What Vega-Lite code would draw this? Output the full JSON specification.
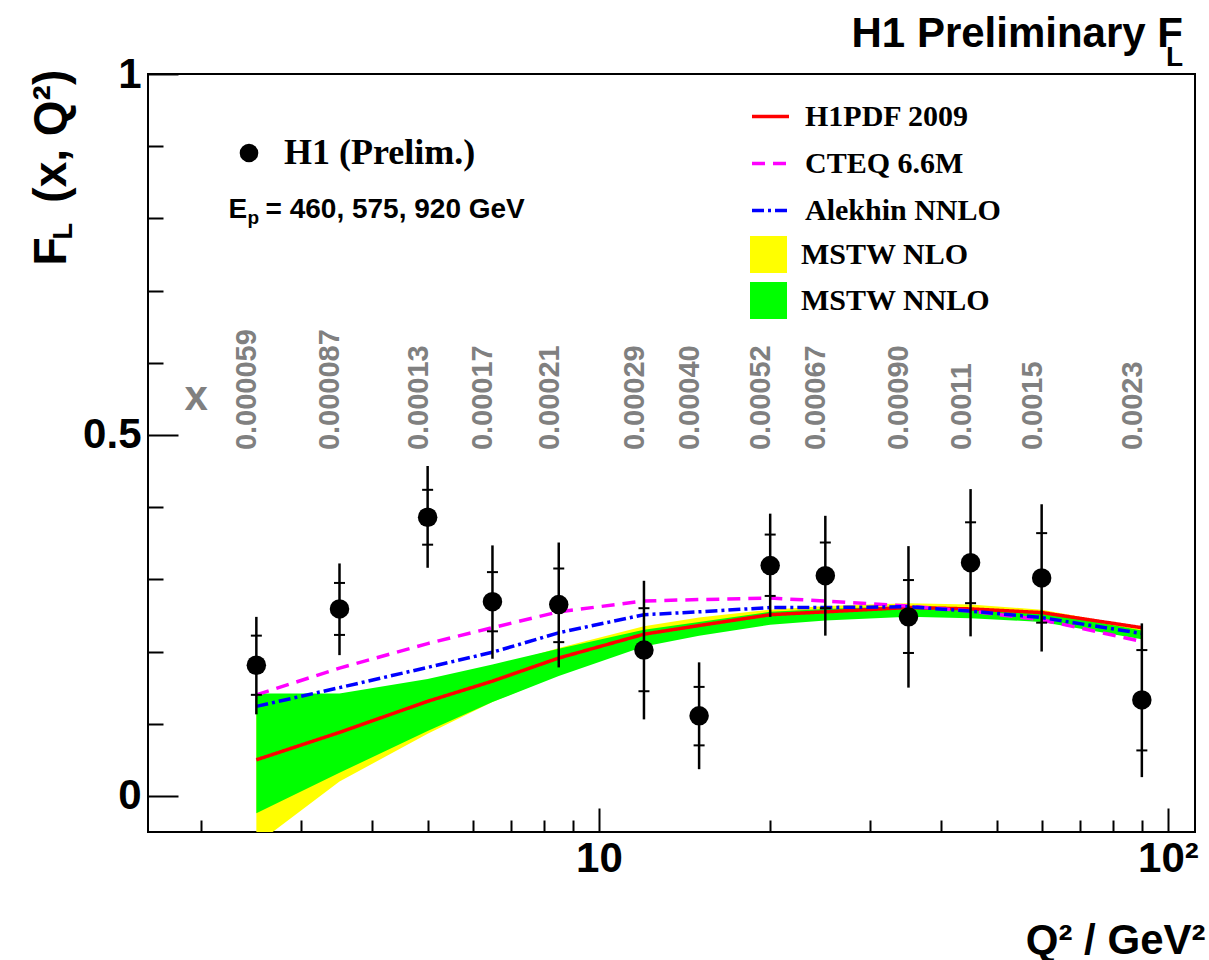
{
  "$schema": "https://vega.github.io/schema/vega-lite/v6.json",
  "description": "H1 preliminary F_L versus Q2 with PDF predictions",
  "width": 1047,
  "height": 758,
  "autosize": {"type": "none"},
  "padding": {"left": 148, "top": 74, "right": 14, "bottom": 128},
  "background": "white",
  "config": {
    "view": {"stroke": "black", "strokeWidth": 2},
    "font": "Liberation Sans",
    "axis": {
      "labelFont": "Liberation Sans",
      "titleFont": "Liberation Sans",
      "labelFontWeight": "bold",
      "titleFontWeight": "bold",
      "labelColor": "black",
      "titleColor": "black",
      "tickColor": "black",
      "tickWidth": 2,
      "domain": false,
      "grid": false,
      "labelOverlap": false,
      "labelFlush": false
    },
    "legend": {"padding": 0, "offset": 0, "titlePadding": 0, "labelLimit": 500}
  },
  "title": {
    "text": "H1 Preliminary F\u00a0\u00a0\u2009",
    "subtitle": "L",
    "anchor": "end",
    "frame": "group",
    "font": "Liberation Sans",
    "fontSize": 42,
    "fontWeight": "bold",
    "color": "black",
    "subtitleFont": "Liberation Sans",
    "subtitleFontSize": 28,
    "subtitleFontWeight": "bold",
    "subtitleColor": "black",
    "subtitlePadding": -12,
    "offset": 14,
    "dx": -12,
    "dy": 34
  },
  "datasets": {
    "pts": [
      {"Q2": 2.5, "FL": 0.181, "statLo": 0.140, "statHi": 0.222, "totLo": 0.113, "totHi": 0.248, "xval": "0.000059", "series": "H1 (Prelim.)"},
      {"Q2": 3.5, "FL": 0.259, "statLo": 0.223, "statHi": 0.295, "totLo": 0.195, "totHi": 0.322, "xval": "0.000087", "series": "H1 (Prelim.)"},
      {"Q2": 5, "FL": 0.386, "statLo": 0.348, "statHi": 0.424, "totLo": 0.316, "totHi": 0.457, "xval": "0.00013", "series": "H1 (Prelim.)"},
      {"Q2": 6.5, "FL": 0.269, "statLo": 0.228, "statHi": 0.310, "totLo": 0.190, "totHi": 0.347, "xval": "0.00017", "series": "H1 (Prelim.)"},
      {"Q2": 8.5, "FL": 0.265, "statLo": 0.213, "statHi": 0.315, "totLo": 0.178, "totHi": 0.351, "xval": "0.00021", "series": "H1 (Prelim.)"},
      {"Q2": 12, "FL": 0.202, "statLo": 0.145, "statHi": 0.260, "totLo": 0.106, "totHi": 0.298, "xval": "0.00029", "series": "H1 (Prelim.)"},
      {"Q2": 15, "FL": 0.111, "statLo": 0.070, "statHi": 0.151, "totLo": 0.037, "totHi": 0.185, "xval": "0.00040", "series": "H1 (Prelim.)"},
      {"Q2": 20, "FL": 0.319, "statLo": 0.277, "statHi": 0.362, "totLo": 0.248, "totHi": 0.391, "xval": "0.00052", "series": "H1 (Prelim.)"},
      {"Q2": 25, "FL": 0.305, "statLo": 0.260, "statHi": 0.351, "totLo": 0.222, "totHi": 0.388, "xval": "0.00067", "series": "H1 (Prelim.)"},
      {"Q2": 35, "FL": 0.248, "statLo": 0.198, "statHi": 0.299, "totLo": 0.150, "totHi": 0.346, "xval": "0.00090", "series": "H1 (Prelim.)"},
      {"Q2": 45, "FL": 0.323, "statLo": 0.267, "statHi": 0.379, "totLo": 0.221, "totHi": 0.425, "xval": "0.0011", "series": "H1 (Prelim.)"},
      {"Q2": 60, "FL": 0.302, "statLo": 0.240, "statHi": 0.364, "totLo": 0.200, "totHi": 0.404, "xval": "0.0015", "series": "H1 (Prelim.)"},
      {"Q2": 90, "FL": 0.133, "statLo": 0.063, "statHi": 0.202, "totLo": 0.026, "totHi": 0.239, "xval": "0.0023", "series": "H1 (Prelim.)"}
    ],
    "models": [
      {"Q2": 2.5, "model": "H1PDF 2009", "FL": 0.050},
      {"Q2": 3.5, "model": "H1PDF 2009", "FL": 0.088},
      {"Q2": 5, "model": "H1PDF 2009", "FL": 0.131},
      {"Q2": 6.5, "model": "H1PDF 2009", "FL": 0.159},
      {"Q2": 8.5, "model": "H1PDF 2009", "FL": 0.191},
      {"Q2": 12, "model": "H1PDF 2009", "FL": 0.224},
      {"Q2": 15, "model": "H1PDF 2009", "FL": 0.236},
      {"Q2": 20, "model": "H1PDF 2009", "FL": 0.251},
      {"Q2": 25, "model": "H1PDF 2009", "FL": 0.255},
      {"Q2": 35, "model": "H1PDF 2009", "FL": 0.261},
      {"Q2": 45, "model": "H1PDF 2009", "FL": 0.259},
      {"Q2": 60, "model": "H1PDF 2009", "FL": 0.254},
      {"Q2": 90, "model": "H1PDF 2009", "FL": 0.233},
      {"Q2": 2.5, "model": "CTEQ 6.6M", "FL": 0.140},
      {"Q2": 3.5, "model": "CTEQ 6.6M", "FL": 0.177},
      {"Q2": 5, "model": "CTEQ 6.6M", "FL": 0.211},
      {"Q2": 6.5, "model": "CTEQ 6.6M", "FL": 0.233},
      {"Q2": 8.5, "model": "CTEQ 6.6M", "FL": 0.255},
      {"Q2": 12, "model": "CTEQ 6.6M", "FL": 0.270},
      {"Q2": 15, "model": "CTEQ 6.6M", "FL": 0.272},
      {"Q2": 20, "model": "CTEQ 6.6M", "FL": 0.274},
      {"Q2": 25, "model": "CTEQ 6.6M", "FL": 0.270},
      {"Q2": 35, "model": "CTEQ 6.6M", "FL": 0.263},
      {"Q2": 45, "model": "CTEQ 6.6M", "FL": 0.256},
      {"Q2": 60, "model": "CTEQ 6.6M", "FL": 0.244},
      {"Q2": 90, "model": "CTEQ 6.6M", "FL": 0.214},
      {"Q2": 2.5, "model": "Alekhin NNLO", "FL": 0.124},
      {"Q2": 3.5, "model": "Alekhin NNLO", "FL": 0.150},
      {"Q2": 5, "model": "Alekhin NNLO", "FL": 0.178},
      {"Q2": 6.5, "model": "Alekhin NNLO", "FL": 0.199},
      {"Q2": 8.5, "model": "Alekhin NNLO", "FL": 0.226},
      {"Q2": 12, "model": "Alekhin NNLO", "FL": 0.251},
      {"Q2": 15, "model": "Alekhin NNLO", "FL": 0.255},
      {"Q2": 20, "model": "Alekhin NNLO", "FL": 0.261},
      {"Q2": 25, "model": "Alekhin NNLO", "FL": 0.261},
      {"Q2": 35, "model": "Alekhin NNLO", "FL": 0.262},
      {"Q2": 45, "model": "Alekhin NNLO", "FL": 0.256},
      {"Q2": 60, "model": "Alekhin NNLO", "FL": 0.247},
      {"Q2": 90, "model": "Alekhin NNLO", "FL": 0.225}
    ],
    "bands": [
      {"Q2": 2.5, "band": "MSTW NLO", "lo": -0.067, "hi": 0.130},
      {"Q2": 3.5, "band": "MSTW NLO", "lo": 0.020, "hi": 0.135},
      {"Q2": 5, "band": "MSTW NLO", "lo": 0.086, "hi": 0.155},
      {"Q2": 6.5, "band": "MSTW NLO", "lo": 0.130, "hi": 0.178},
      {"Q2": 8.5, "band": "MSTW NLO", "lo": 0.168, "hi": 0.205},
      {"Q2": 12, "band": "MSTW NLO", "lo": 0.212, "hi": 0.235},
      {"Q2": 15, "band": "MSTW NLO", "lo": 0.228, "hi": 0.247},
      {"Q2": 20, "band": "MSTW NLO", "lo": 0.242, "hi": 0.258},
      {"Q2": 25, "band": "MSTW NLO", "lo": 0.248, "hi": 0.263},
      {"Q2": 35, "band": "MSTW NLO", "lo": 0.252, "hi": 0.267},
      {"Q2": 45, "band": "MSTW NLO", "lo": 0.250, "hi": 0.265},
      {"Q2": 60, "band": "MSTW NLO", "lo": 0.245, "hi": 0.258},
      {"Q2": 90, "band": "MSTW NLO", "lo": 0.222, "hi": 0.233},
      {"Q2": 2.5, "band": "MSTW NNLO", "lo": -0.024, "hi": 0.142},
      {"Q2": 3.5, "band": "MSTW NNLO", "lo": 0.032, "hi": 0.142},
      {"Q2": 5, "band": "MSTW NNLO", "lo": 0.090, "hi": 0.162},
      {"Q2": 6.5, "band": "MSTW NNLO", "lo": 0.130, "hi": 0.182},
      {"Q2": 8.5, "band": "MSTW NNLO", "lo": 0.166, "hi": 0.204},
      {"Q2": 12, "band": "MSTW NNLO", "lo": 0.207, "hi": 0.230},
      {"Q2": 15, "band": "MSTW NNLO", "lo": 0.222, "hi": 0.241},
      {"Q2": 20, "band": "MSTW NNLO", "lo": 0.237, "hi": 0.255},
      {"Q2": 25, "band": "MSTW NNLO", "lo": 0.243, "hi": 0.259},
      {"Q2": 35, "band": "MSTW NNLO", "lo": 0.248, "hi": 0.263},
      {"Q2": 45, "band": "MSTW NNLO", "lo": 0.246, "hi": 0.260},
      {"Q2": 60, "band": "MSTW NNLO", "lo": 0.241, "hi": 0.255},
      {"Q2": 90, "band": "MSTW NNLO", "lo": 0.217, "hi": 0.229}
    ]
  },
  "layer": [
    {
      "data": {"name": "bands"},
      "transform": [{"filter": "datum.band === 'MSTW NLO'"}],
      "mark": {"type": "area", "clip": true, "opacity": 1},
      "encoding": {
        "x": {
          "field": "Q2", "type": "quantitative",
          "scale": {"type": "log", "domain": [1.6125, 111.6], "nice": false},
          "axis": {
            "orient": "bottom", "values": [10, 100], "tickSize": -24,
            "labelExpr": "datum.value == 100 ? '10²' : '10'",
            "labelFontSize": 42, "labelPadding": 30,
            "title": "Q² / GeV²", "titleFontSize": 42,
            "titleAlign": "right", "titleBaseline": "alphabetic",
            "titleX": 1057, "titleY": 121
          }
        },
        "y": {
          "field": "lo", "type": "quantitative",
          "scale": {"domain": [-0.05, 1.0], "nice": false, "zero": false},
          "axis": {
            "orient": "left", "values": [0, 0.5, 1], "tickSize": -30,
            "labelFontSize": 42, "labelPadding": 37,
            "labelExpr": "datum.value == 0 ? '0' : datum.value == 1 ? '1' : '0.5'",
            "title": "F\u00a0\u00a0\u2009(x, Q²)", "titleFontSize": 46,
            "titleAngle": 270, "titleAlign": "left", "titleBaseline": "alphabetic",
            "titleX": -83, "titleY": 191
          }
        },
        "y2": {"field": "hi"},
        "fill": {
          "field": "band", "type": "nominal",
          "scale": {"domain": ["MSTW NLO", "MSTW NNLO"], "range": ["#ffff00", "#00ff00"]},
          "legend": {
            "orient": "none", "legendX": 602, "legendY": 162, "title": null,
            "symbolType": "square", "symbolSize": 1369, "symbolStrokeWidth": 0,
            "labelFont": "Liberation Serif", "labelFontSize": 30, "labelFontWeight": "bold",
            "labelColor": "black", "labelOffset": 14, "rowPadding": 9
          }
        }
      }
    },
    {
      "data": {"name": "bands"},
      "transform": [{"filter": "datum.band === 'MSTW NNLO'"}],
      "mark": {"type": "area", "clip": true, "opacity": 1},
      "encoding": {
        "x": {
          "field": "Q2", "type": "quantitative",
          "axis": {
            "orient": "bottom", "values": [2, 3, 4, 5, 6, 7, 8, 9, 20, 30, 40, 50, 60, 70, 80, 90],
            "tickSize": -12, "labels": false, "title": null
          }
        },
        "y": {
          "field": "lo", "type": "quantitative",
          "axis": {
            "orient": "left", "values": [0.1, 0.2, 0.3, 0.4, 0.6, 0.7, 0.8, 0.9],
            "tickSize": -15, "labels": false,
            "title": "L", "titleFontSize": 27,
            "titleAngle": 270, "titleAlign": "left", "titleBaseline": "alphabetic",
            "titleX": -77, "titleY": 165
          }
        },
        "y2": {"field": "hi"},
        "fill": {"field": "band", "type": "nominal"}
      }
    },
    {
      "data": {"name": "models"},
      "mark": {"type": "line", "strokeWidth": 3.5, "strokeCap": "butt"},
      "encoding": {
        "x": {"field": "Q2", "type": "quantitative", "axis": null},
        "y": {"field": "FL", "type": "quantitative", "axis": null},
        "stroke": {
          "field": "model", "type": "nominal",
          "scale": {"domain": ["H1PDF 2009", "CTEQ 6.6M", "Alekhin NNLO"], "range": ["#ff0000", "#ff00ff", "#0000ff"]},
          "legend": {
            "orient": "none", "legendX": 602, "legendY": 22, "title": null,
            "symbolType": "stroke", "symbolSize": 1369, "symbolStrokeWidth": 3.5,
            "labelFont": "Liberation Serif", "labelFontSize": 30, "labelFontWeight": "bold",
            "labelColor": "black", "labelOffset": 14, "rowPadding": 11
          }
        },
        "strokeDash": {
          "field": "model", "type": "nominal",
          "scale": {"domain": ["H1PDF 2009", "CTEQ 6.6M", "Alekhin NNLO"], "range": [[1, 0], [13, 8], [12, 4, 3, 4]]},
          "legend": {
            "orient": "none", "legendX": 602, "legendY": 22, "title": null,
            "symbolType": "stroke", "symbolSize": 1369, "symbolStrokeWidth": 3.5,
            "labelFont": "Liberation Serif", "labelFontSize": 30, "labelFontWeight": "bold",
            "labelColor": "black", "labelOffset": 14, "rowPadding": 11
          }
        }
      }
    },
    {
      "data": {"name": "pts"},
      "mark": {"type": "rule", "strokeWidth": 2.5, "color": "black"},
      "encoding": {
        "x": {"field": "Q2", "type": "quantitative", "axis": null},
        "y": {"field": "totLo", "type": "quantitative", "axis": null},
        "y2": {"field": "totHi"}
      }
    },
    {
      "data": {"name": "pts"},
      "mark": {"type": "tick", "orient": "horizontal", "size": 11, "thickness": 2, "color": "black", "opacity": 1},
      "encoding": {
        "x": {"field": "Q2", "type": "quantitative", "axis": null},
        "y": {"field": "statLo", "type": "quantitative", "axis": null}
      }
    },
    {
      "data": {"name": "pts"},
      "mark": {"type": "tick", "orient": "horizontal", "size": 11, "thickness": 2, "color": "black", "opacity": 1},
      "encoding": {
        "x": {"field": "Q2", "type": "quantitative", "axis": null},
        "y": {"field": "statHi", "type": "quantitative", "axis": null}
      }
    },
    {
      "data": {"name": "pts"},
      "mark": {"type": "point", "filled": true, "size": 380, "opacity": 1, "color": "black"},
      "encoding": {
        "x": {"field": "Q2", "type": "quantitative", "axis": null},
        "y": {"field": "FL", "type": "quantitative", "axis": null},
        "shape": {
          "field": "series", "type": "nominal",
          "scale": {"range": ["circle"]},
          "legend": {
            "orient": "none", "legendX": 83, "legendY": 61, "title": null,
            "symbolSize": 346, "symbolFillColor": "black", "symbolStrokeColor": "black", "symbolStrokeWidth": 0,
            "labelFont": "Liberation Serif", "labelFontSize": 36, "labelFontWeight": "bold",
            "labelColor": "black", "labelOffset": 17
          }
        }
      }
    },
    {
      "data": {"name": "pts"},
      "mark": {"type": "text", "angle": 270, "align": "left", "baseline": "alphabetic", "font": "Liberation Sans", "fontWeight": "bold", "fontSize": 29, "color": "#808080"},
      "encoding": {
        "x": {"field": "Q2", "type": "quantitative", "axis": null},
        "y": {"datum": 0.479, "type": "quantitative", "axis": null},
        "text": {"field": "xval"}
      }
    },
    {
      "data": {"values": [{"label": "x"}]},
      "mark": {"type": "text", "align": "center", "baseline": "alphabetic", "font": "Liberation Sans", "fontWeight": "bold", "fontSize": 42, "color": "#808080"},
      "encoding": {
        "x": {"datum": 1.96, "type": "quantitative", "axis": null},
        "y": {"datum": 0.535, "type": "quantitative", "axis": null},
        "text": {"field": "label"}
      }
    },
    {
      "data": {"values": [{"label": "E"}]},
      "mark": {"type": "text", "align": "left", "baseline": "alphabetic", "font": "Liberation Sans", "fontWeight": "bold", "fontSize": 28, "color": "black"},
      "encoding": {
        "x": {"datum": 2.234, "type": "quantitative", "axis": null},
        "y": {"datum": 0.8006, "type": "quantitative", "axis": null},
        "text": {"field": "label"}
      }
    },
    {
      "data": {"values": [{"label": "p"}]},
      "mark": {"type": "text", "align": "left", "baseline": "alphabetic", "font": "Liberation Sans", "fontWeight": "bold", "fontSize": 19, "color": "black", "dx": 19, "dy": 6},
      "encoding": {
        "x": {"datum": 2.234, "type": "quantitative", "axis": null},
        "y": {"datum": 0.8006, "type": "quantitative", "axis": null},
        "text": {"field": "label"}
      }
    },
    {
      "data": {"values": [{"label": "= 460, 575, 920 GeV"}]},
      "mark": {"type": "text", "align": "left", "baseline": "alphabetic", "font": "Liberation Sans", "fontWeight": "bold", "fontSize": 28, "color": "black", "dx": 37},
      "encoding": {
        "x": {"datum": 2.234, "type": "quantitative", "axis": null},
        "y": {"datum": 0.8006, "type": "quantitative", "axis": null},
        "text": {"field": "label"}
      }
    }
  ],
  "resolve": {"axis": {"x": "independent", "y": "independent"}}
}
